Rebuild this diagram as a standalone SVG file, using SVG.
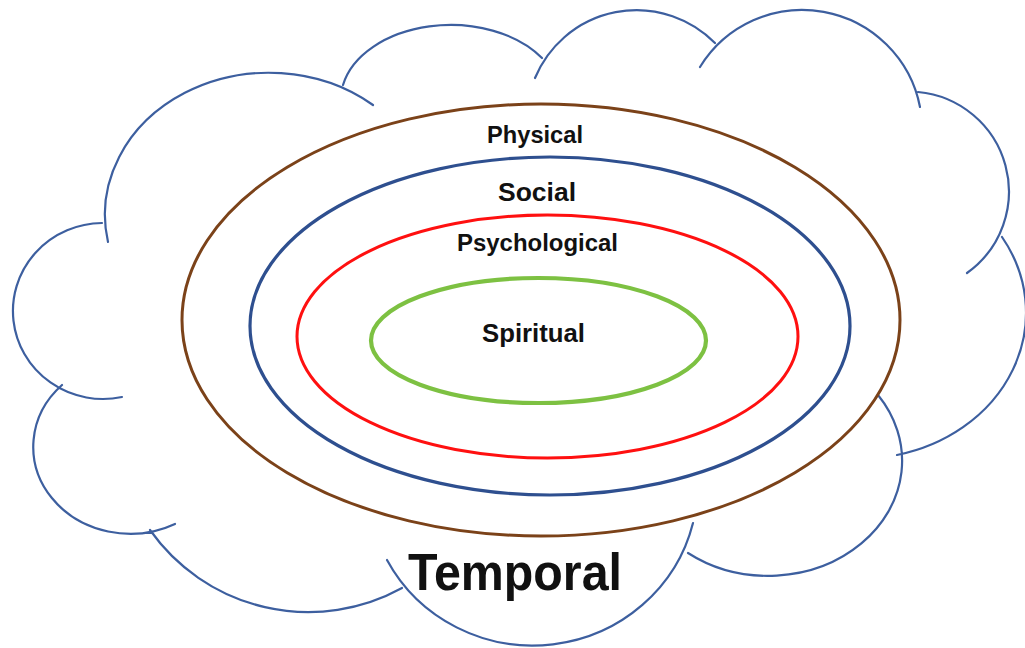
<svg xmlns="http://www.w3.org/2000/svg" width="1025" height="648" viewBox="0 0 1025 648">
<style>
.cloud{fill:none;stroke:#3d5f9f;stroke-width:2.2;stroke-linecap:round}
.ring{fill:none}
.lbl{font-family:"Liberation Sans",Arial,sans-serif;font-weight:bold;fill:#111;text-anchor:middle}
</style>
<rect width="1025" height="648" fill="#fff"/>
<g id="temporal-cloud">
<path class="cloud" d="M108,242 A164,142 0 0 1 373,105
M343,85 A110,75 0 0 1 542,58
M535,78 A110,110 0 0 1 715,43
M700,67 A120,120 0 0 1 920,107
M918,92 A100,100 0 0 1 967,273
M1002,237 A166,146 0 0 1 897,455
M878,395 A134,115 0 0 1 688,553
M693,523 A165,161 0 0 1 387,560
M402,588 A194,194 0 0 1 150,530
M175,524 A97,87 0 0 1 62,385
M122,397 A90,88 0 1 1 102,223"/>
<text class="lbl" x="515" y="590" font-size="52" textLength="214" lengthAdjust="spacingAndGlyphs">Temporal</text>
</g>
<g id="physical">
<ellipse class="ring" cx="541" cy="320" rx="359" ry="216" stroke="#7b4219" stroke-width="3"/>
<text class="lbl" x="535" y="143" font-size="24" textLength="96" lengthAdjust="spacingAndGlyphs">Physical</text>
</g>
<g id="social">
<ellipse class="ring" cx="550" cy="326" rx="300" ry="169" stroke="#2e4f8f" stroke-width="3.2"/>
<text class="lbl" x="537" y="201" font-size="26" textLength="78" lengthAdjust="spacingAndGlyphs">Social</text>
</g>
<g id="psychological">
<ellipse class="ring" cx="547.5" cy="336.5" rx="250.5" ry="121.5" stroke="#ff1010" stroke-width="3"/>
<text class="lbl" x="537.5" y="251" font-size="24" textLength="161" lengthAdjust="spacingAndGlyphs">Psychological</text>
</g>
<g id="spiritual">
<ellipse class="ring" cx="538.5" cy="340.5" rx="167.5" ry="62.5" stroke="#7dc142" stroke-width="4.2"/>
<text class="lbl" x="533.5" y="342" font-size="26" textLength="103" lengthAdjust="spacingAndGlyphs">Spiritual</text>
</g>
</svg>
